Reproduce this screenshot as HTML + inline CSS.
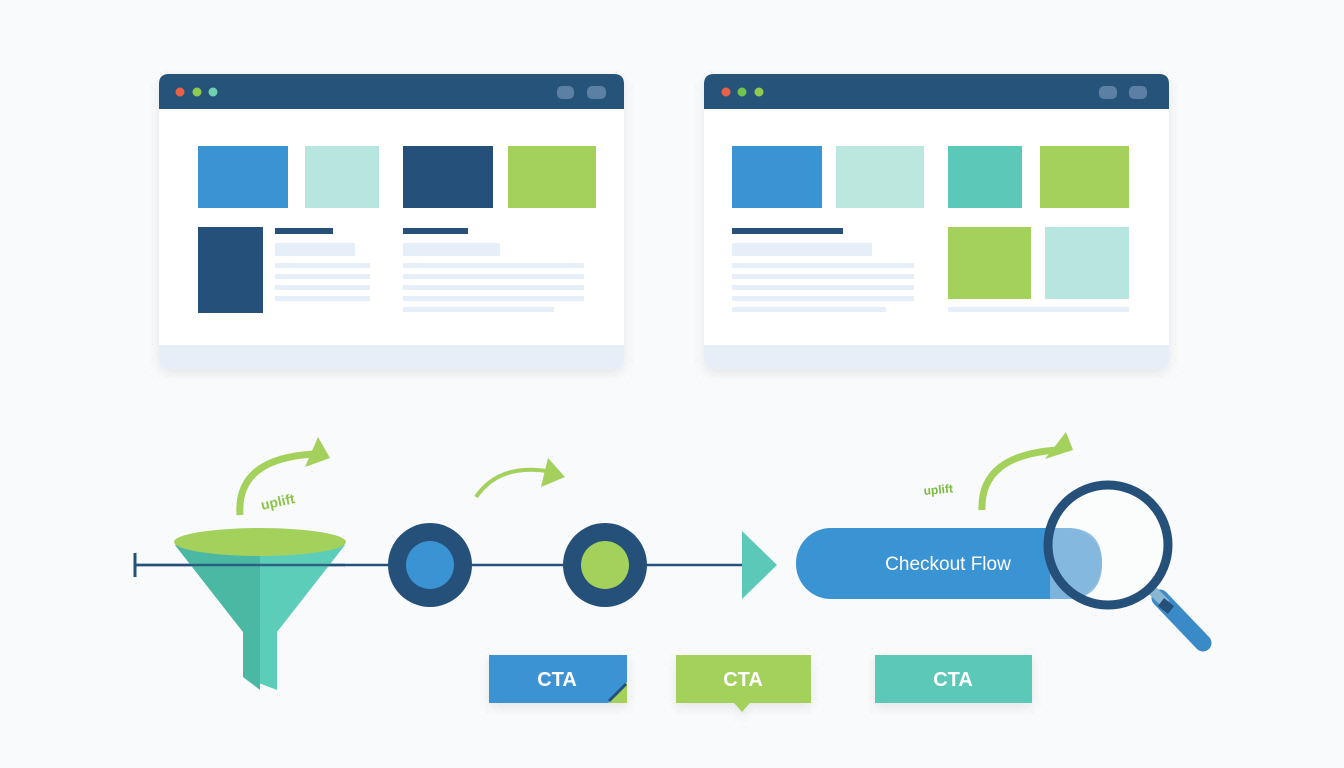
<!DOCTYPE html>
<html><head><meta charset="utf-8"><style>
html,body{margin:0;padding:0;width:1344px;height:768px;overflow:hidden;background:#f9fafb;}
svg{display:block}
text{font-family:"Liberation Sans",sans-serif;}
</style></head><body>
<svg width="1344" height="768" viewBox="0 0 1344 768" xmlns="http://www.w3.org/2000/svg">
<defs>
<pattern id="dots" width="16" height="16" patternUnits="userSpaceOnUse"><circle cx="8" cy="8" r="0.9" fill="#e3e7ea"/></pattern>
<filter id="sh" x="-10%" y="-10%" width="120%" height="130%"><feDropShadow dx="0" dy="4" stdDeviation="5" flood-color="#000" flood-opacity="0.08"/></filter>
</defs>
<rect width="1344" height="768" fill="#f9fafb"/>
<rect width="1344" height="768" fill="url(#dots)"/>

<!-- Left window -->
<g filter="url(#sh)">
<rect x="159" y="74" width="465" height="295" rx="10" fill="#e6eef8"/>
<rect x="159" y="108" width="465" height="237" fill="#fff"/>
<path d="M169 74 H614 Q624 74 624 84 V109 H159 V84 Q159 74 169 74Z" fill="#27527a"/>
</g>
<circle cx="180" cy="92" r="4.5" fill="#ea6048"/><circle cx="197" cy="92" r="4.5" fill="#8fcb4f"/><circle cx="213" cy="92" r="4.5" fill="#6fd1ac"/>
<rect x="557" y="86" width="17" height="13" rx="5" fill="#5c80a3"/><rect x="587" y="86" width="19" height="13" rx="5" fill="#5c80a3"/>
<rect x="198" y="146" width="90" height="62" fill="#3a93d3"/>
<rect x="305" y="146" width="74" height="62" fill="#b7e6df"/>
<rect x="403" y="146" width="90" height="62" fill="#25507a"/>
<rect x="508" y="146" width="88" height="62" fill="#a4d05c"/>
<rect x="198" y="227" width="65" height="86" fill="#25507a"/>
<rect x="275" y="228" width="58" height="6" fill="#25507a"/>
<rect x="275" y="243" width="80" height="13" fill="#e6eef8"/>
<g fill="#e6eef8"><rect x="275" y="263" width="95" height="5"/><rect x="275" y="274" width="95" height="5"/><rect x="275" y="285" width="95" height="5"/><rect x="275" y="296" width="95" height="5"/></g>
<rect x="403" y="228" width="65" height="6" fill="#25507a"/>
<rect x="403" y="243" width="97" height="13" fill="#e6eef8"/>
<g fill="#e6eef8"><rect x="403" y="263" width="181" height="5"/><rect x="403" y="274" width="181" height="5"/><rect x="403" y="285" width="181" height="5"/><rect x="403" y="296" width="181" height="5"/><rect x="403" y="307" width="151" height="5"/></g>

<!-- Right window -->
<g filter="url(#sh)">
<rect x="704" y="74" width="465" height="295" rx="10" fill="#e6eef8"/>
<rect x="704" y="108" width="465" height="237" fill="#fff"/>
<path d="M714 74 H1159 Q1169 74 1169 84 V109 H704 V84 Q704 74 714 74Z" fill="#27527a"/>
</g>
<circle cx="726" cy="92" r="4.5" fill="#ea6048"/><circle cx="742" cy="92" r="4.5" fill="#6fc34f"/><circle cx="759" cy="92" r="4.5" fill="#8fcb4f"/>
<rect x="1099" y="86" width="18" height="13" rx="5" fill="#5c80a3"/><rect x="1129" y="86" width="18" height="13" rx="5" fill="#5c80a3"/>
<rect x="732" y="146" width="90" height="62" fill="#3a93d3"/>
<rect x="836" y="146" width="88" height="62" fill="#bce7df"/>
<rect x="948" y="146" width="74" height="62" fill="#5cc8b8"/>
<rect x="1040" y="146" width="89" height="62" fill="#a4d05c"/>
<rect x="732" y="228" width="111" height="6" fill="#25507a"/>
<rect x="732" y="243" width="140" height="13" fill="#e6eef8"/>
<g fill="#e6eef8"><rect x="732" y="263" width="182" height="5"/><rect x="732" y="274" width="182" height="5"/><rect x="732" y="285" width="182" height="5"/><rect x="732" y="296" width="182" height="5"/><rect x="732" y="307" width="154" height="5"/></g>
<rect x="948" y="227" width="83" height="72" fill="#a4d05c"/>
<rect x="1045" y="227" width="84" height="72" fill="#b7e6df"/>
<rect x="948" y="307" width="181" height="5" fill="#e6eef8"/>

<!-- timeline -->
<line x1="135" y1="565" x2="745" y2="565" stroke="#25507a" stroke-width="2.5"/>
<line x1="135" y1="553" x2="135" y2="577" stroke="#25507a" stroke-width="3"/>

<!-- funnel -->
<path d="M175 545 L345 545 L277 632 L277 690 L243 677 L243 632 Z" fill="#5ccdb9"/>
<path d="M175 545 L260 545 L260 690 L243 677 L243 632 Z" fill="#4bb8a4"/>
<ellipse cx="260" cy="542" rx="86" ry="14" fill="#a4d05c"/>
<line x1="135" y1="565" x2="345" y2="565" stroke="#25507a" stroke-width="2.5" opacity="0.85"/>

<!-- circles -->
<circle cx="430" cy="565" r="42" fill="#25507a"/><circle cx="430" cy="565" r="24" fill="#3a93d3"/>
<circle cx="605" cy="565" r="42" fill="#25507a"/><circle cx="605" cy="565" r="24" fill="#a4d05c"/>
<path d="M742 531 L777 565 L742 599 Z" fill="#5cc8b8"/>

<!-- arrows -->
<g fill="none" stroke="#a4d05c" stroke-width="7">
<path d="M240 515 Q236 458 315 454"/>
<path d="M476 497 Q500 462 552 472" stroke-width="4"/>
<path d="M982 510 Q980 455 1058 450"/>
</g>
<g fill="#a4d05c">
<path d="M318 437 L330 458 L305 467 Z"/>
<path d="M548 458 L565 477 L541 487 Z"/>
<path d="M1066 432 L1073 450 L1045 459 Z"/>
</g>
<text x="262" y="510" font-size="14" font-weight="bold" fill="#8cc44a" transform="rotate(-12 262 510)">uplift</text>
<text x="924" y="495" font-size="12" font-weight="bold" fill="#7cbb3c" transform="rotate(-5 924 495)">uplift</text>

<!-- checkout pill -->
<rect x="796" y="528" width="306" height="71" rx="35" fill="#3a93d3"/>
<text x="948" y="570" font-size="19" fill="#fff" text-anchor="middle">Checkout Flow</text>
<!-- magnifier -->
<line x1="1160" y1="598" x2="1203" y2="643" stroke="#3a8ac8" stroke-width="17" stroke-linecap="round"/>
<line x1="1152" y1="590" x2="1166" y2="604" stroke="#8ab6d2" stroke-width="10"/>
<line x1="1161" y1="602" x2="1171" y2="610" stroke="#25507a" stroke-width="10"/>
<circle cx="1108" cy="545" r="58" fill="#ffffff" fill-opacity="0.35"/>
<path d="M1050 528 L1067 528 Q1102 528 1102 563 Q1102 599 1067 599 L1050 599 Z" fill="#85b8de" opacity="0.9"/>
<circle cx="1108" cy="545" r="60" fill="none" stroke="#25507a" stroke-width="9"/>

<!-- CTAs -->
<g filter="url(#sh)">
<rect x="489" y="655" width="138" height="48" fill="#3a93d3"/>
<rect x="676" y="655" width="135" height="48" fill="#a4d05c"/>
<path d="M734 703 L742 712 L750 703 Z" fill="#a4d05c"/>
<rect x="875" y="655" width="157" height="48" fill="#5cc8b8"/>
</g>
<path d="M627 682 L627 703 L608 703 Z" fill="#a4d05c"/>
<line x1="609" y1="701" x2="626" y2="684" stroke="#25507a" stroke-width="3"/>
<g font-size="20" font-weight="bold" fill="#fff" text-anchor="middle">
<text x="557" y="686">CTA</text><text x="743" y="686">CTA</text><text x="953" y="686">CTA</text>
</g>
</svg>
</body></html>
